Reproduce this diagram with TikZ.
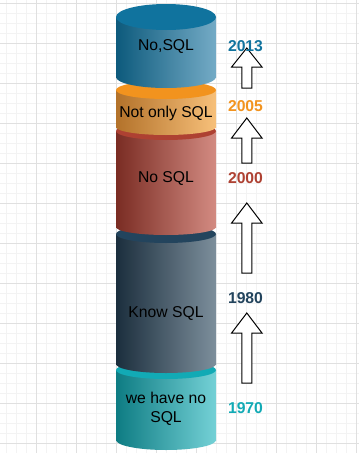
\documentclass[tikz,border=0pt]{standalone}
\usepackage{fontspec}
\setmainfont{Liberation Sans}
\definecolor{cBlue}{HTML}{10739E}
\definecolor{cBlueL}{HTML}{0D5A7C}
\definecolor{cBlueR}{HTML}{74ABC6}
\definecolor{cOrange}{HTML}{F2931E}
\definecolor{cOrangeL}{HTML}{B3722A}
\definecolor{cOrangeR}{HTML}{F7C07A}
\definecolor{cRed}{HTML}{AE4132}
\definecolor{cRedL}{HTML}{7A2C23}
\definecolor{cRedR}{HTML}{D38B82}
\definecolor{cGray}{HTML}{23445D}
\definecolor{cGrayL}{HTML}{1B2E3D}
\definecolor{cGrayR}{HTML}{7D8F9C}
\definecolor{cTeal}{HTML}{12AAB5}
\definecolor{cTealL}{HTML}{0E7C83}
\definecolor{cTealR}{HTML}{74D1D6}
\definecolor{gridMajor}{HTML}{E0E0E0}
\definecolor{gridMinor}{HTML}{F3F3F3}
\newcommand\drawcyl[7]{%
  \shade[left color=#6,right color=#7] (116,#1) rectangle (216,#2);
  \shade[left color=#6,right color=#7] (166,#2) ellipse[x radius=50,y radius=#4];
  \fill[#5] (166,#1) ellipse[x radius=50,y radius=#3];
}
\newcommand\blockarr[3]{%
  \draw[blockarrow] (246.8,#1) -- (262,#2) -- (251.8,#2) -- (251.8,#3) -- (241.8,#3) -- (241.8,#2) -- (231.6,#2) -- cycle;
}
\begin{document}
\begin{tikzpicture}[x=1pt,y=-1pt,
  lbl/.style={font=\fontsize{15.7}{18.5}\selectfont, text=black, align=center, inner sep=0pt},
  yr/.style={font=\fontsize{15.7}{18.5}\selectfont\bfseries, inner sep=0pt},
  blockarrow/.style={draw=black, fill=white, line width=1pt, line join=miter}]
\useasboundingbox (0,0) rectangle (359,453);
\fill[white] (0,0) rectangle (359,453);
% grid
\foreach \g in {6,16,...,356} \draw[gridMinor, line width=0.8pt] (\g,0) -- (\g,453);
\foreach \g in {3,13,...,453} \draw[gridMinor, line width=0.8pt] (0,\g) -- (359,\g);
\foreach \g in {36,76,...,356} \draw[gridMajor, line width=0.8pt] (\g,0) -- (\g,453);
\foreach \g in {3,43,...,443} \draw[gridMajor, line width=0.8pt] (0,\g) -- (359,\g);
% cylinders, bottom first
\drawcyl{370}{440}{9}{10}{cTeal}{cTealL}{cTealR}
\drawcyl{234}{364}{9}{9}{cGray}{cGrayL}{cGrayR}
\drawcyl{131}{227}{9}{8}{cRed}{cRedL}{cRedR}
\drawcyl{90}{127}{9}{8}{cOrange}{cOrangeL}{cOrangeR}
\drawcyl{17}{77}{13}{11}{cBlue}{cBlueL}{cBlueR}
% arrows
\blockarr{48}{67}{88}
\blockarr{118}{138}{163}
\blockarr{203}{223}{273}
\blockarr{313}{333}{383}
% labels
\node[lbl] (c1) at (166,46) {No,SQL};
\node[lbl] (c2) at (166,113) {Not only SQL};
\node[lbl] (c3) at (166,178) {No SQL};
\node[lbl] (c4) at (166,313) {Know SQL};
\node[lbl] (c5) at (166,409) {we have no\\SQL};
% years
\node[yr, text=cBlue] (y1) at (245.5,46) {2013};
\node[yr, text=cOrange] (y2) at (245.5,106) {2005};
\node[yr, text=cRed] (y3) at (245.5,178) {2000};
\node[yr, text=cGray] (y4) at (245.5,298) {1980};
\node[yr, text=cTeal] (y5) at (245.5,408) {1970};
\end{tikzpicture}
\end{document}
